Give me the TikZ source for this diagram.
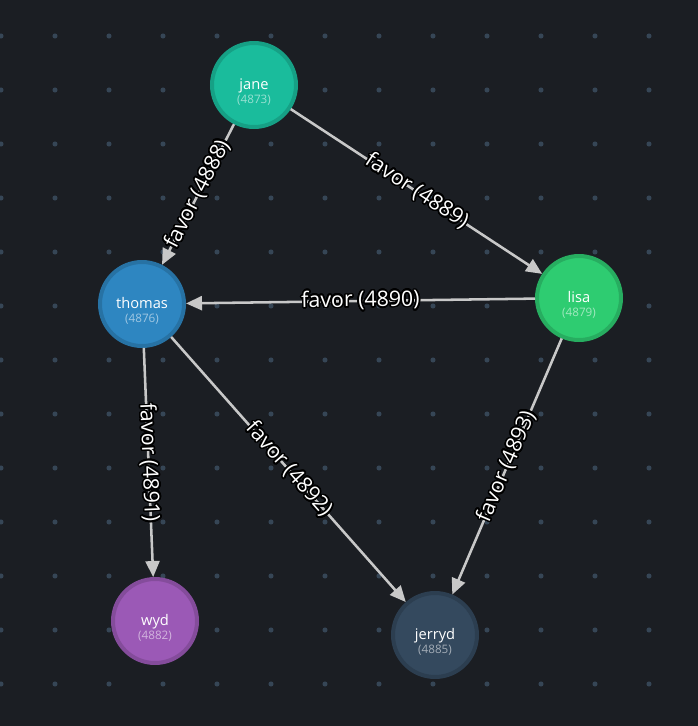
\documentclass[tikz,border=0pt]{standalone}
\usepackage{fontspec}
\setmainfont{Open Sans}
\usepackage{contour}
\usetikzlibrary{arrows.meta}
\contourlength{1.2pt}
\contournumber{24}
\definecolor{bgc}{HTML}{1B1E23}
\definecolor{dotc}{HTML}{364656}
\definecolor{edgec}{HTML}{C8C8C8}
\definecolor{janec}{HTML}{1ABC9C}
\definecolor{thomasc}{HTML}{2E86C1}
\definecolor{lisac}{HTML}{2ECC71}
\definecolor{wydc}{HTML}{9B59B6}
\definecolor{jerrydc}{HTML}{34495E}
\newcommand{\who}[3]{\rule{0pt}{18.5pt}#1\\{\fontsize{8.75pt}{10pt}\selectfont\color{white!55!#3}(#2)}}
\begin{document}
\begin{tikzpicture}
  [x=0.75pt,y=-0.75pt,
   person/.style={circle,fill=#1,draw=#1!85!black,line width=3pt,
     minimum size=63pt,inner sep=0pt,text=white,align=center,
     font=\fontsize{11pt}{10.5pt}\selectfont},
   edge/.style={draw=edgec,line width=1.9pt,-{Triangle[length=12pt,width=10.5pt]}},
   elabel/.style={sloped,text=white,inner sep=0pt,
     font=\fontsize{16pt}{17pt}\selectfont}]
  \fill[bgc] (0,0) rectangle (698,726);
  \useasboundingbox (0,0) rectangle (698,726);
  \foreach \i in {0,...,12}
    \foreach \j in {0,...,12}
      \fill[dotc] (1+54*\i,36+54*\j) circle[radius=1.9pt];

  \node[person=janec] (jane) at (254,85) {\who{jane}{4873}{janec}};
  \node[person=thomasc] (thomas) at (142,304) {\who{thomas}{4876}{thomasc}};
  \node[person=lisac] (lisa) at (579,298) {\who{lisa}{4879}{lisac}};
  \node[person=wydc] (wyd) at (155,621) {\who{wyd}{4882}{wydc}};
  \node[person=jerrydc] (jerryd) at (435,635) {\who{jerryd}{4885}{jerrydc}};

  \foreach \from/\to/\id in {jane/thomas/4888,jane/lisa/4889,lisa/thomas/4890,
      thomas/wyd/4891,thomas/jerryd/4892,lisa/jerryd/4893}
    \draw[edge] (\from) -- node[elabel]{\contour{black}{favor (\id)}} (\to);

\end{tikzpicture}
\end{document}
